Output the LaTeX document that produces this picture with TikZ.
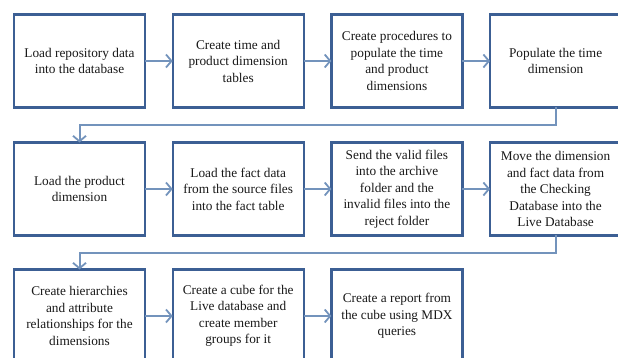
\documentclass[tikz,border=0pt]{standalone}
\usepackage{fontspec}
\setmainfont{Liberation Serif}
\usetikzlibrary{arrows.meta}
\definecolor{boxblue}{HTML}{3C5F94}
\definecolor{linkblue}{HTML}{7393BC}
\tikzset{
  stepbox/.style={draw=boxblue,line width=2.4pt,fill=white,minimum width=131pt,
    minimum height=93pt,align=center,inner sep=2pt,outer sep=0pt,
    font=\fontsize{13.3}{16.5}\selectfont,text=black!90},
  link/.style={draw=linkblue,line width=2pt,-{Straight Barb[length=5.5pt,width=13pt,line width=1.8pt]}}
}
\begin{document}
\begin{tikzpicture}[x=1pt,y=1pt]
\useasboundingbox(0,0)rectangle(618,358);
%
\node[stepbox](load)at(79.5,297){Load repository data\\into the database};
\node[stepbox](tables)at(238.2,297){Create time and\\product dimension\\tables};
\node[stepbox](procs)at(396.9,297){Create procedures to\\populate the time\\and product\\dimensions};
\node[stepbox](time)at(555.6,297){Populate the time\\dimension};
%
\node[stepbox](product)at(79.5,169){Load the product\\dimension};
\node[stepbox](fact)at(238.2,169){Load the fact data\\from the source files\\into the fact table};
\node[stepbox](files)at(396.9,169){Send the valid files\\into the archive\\folder and the\\invalid files into the\\reject folder};
\node[stepbox](move)at(555.6,169){Move the dimension\\and fact data from\\the Checking\\Database into the\\Live Database};
%
\node[stepbox](hier)at(79.5,42){Create hierarchies\\and attribute\\relationships for the\\dimensions};
\node[stepbox](cube)at(238.2,42){Create a cube for the\\Live database and\\create member\\groups for it};
\node[stepbox](report)at(396.9,42){Create a report from\\the cube using MDX\\queries};
%
\draw[link](load)--(tables);
\draw[link](tables)--(procs);
\draw[link](procs)--(time);
\draw[link](time.south)--++(0,-17.5)-|(product.north);
\draw[link](product)--(fact);
\draw[link](fact)--(files);
\draw[link](files)--(move);
\draw[link](move.south)--++(0,-17.5)-|(hier.north);
\draw[link](hier)--(cube);
\draw[link](cube)--(report);
\end{tikzpicture}
\end{document}
